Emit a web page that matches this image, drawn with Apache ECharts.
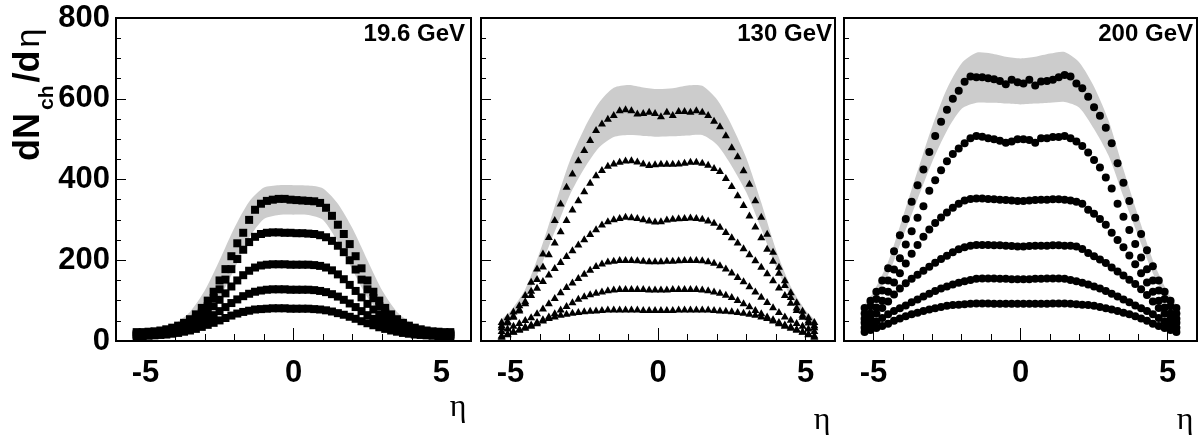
<!DOCTYPE html>
<html><head><meta charset="utf-8">
<script src="https://cdn.jsdelivr.net/npm/echarts@6/dist/echarts.min.js"></script>
<style>html,body{margin:0;padding:0;background:#fff;}#c{width:1201px;height:435px;}</style>
</head><body><div id="c"></div>
<script>
// pseudorapidity bin centres shared by all data sets
const eta = [-5.3,-5.1,-4.9,-4.7,-4.5,-4.3,-4.1,-3.9,-3.7,-3.5,-3.3,-3.1,-2.9,-2.7,-2.5,-2.3,-2.1,-1.9,-1.7,-1.5,-1.3,-1.1,-0.9,-0.7,-0.5,-0.3,-0.1,
             0.1,0.3,0.5,0.7,0.9,1.1,1.3,1.5,1.7,1.9,2.1,2.3,2.5,2.7,2.9,3.1,3.3,3.5,3.7,3.9,4.1,4.3,4.5,4.7,4.9,5.1,5.3];
// eta points of the systematic-error bands
const bandEta = [-5.3,-5,-4.5,-4,-3.5,-3,-2.5,-2,-1.5,-1,-0.5,0,0.5,1,1.5,2,2.5,3,3.5,4,4.5,5,5.3];

// ---- 19.6 GeV (squares) ----
const e196_c1 = [22,22,23,24,26,29,33,38,45,54,66,82,100,122,150,178,210,242,268,300,325,340,347,350,352,352,350,
                 349,348,347,346,342,330,310,288,265,240,210,180,150,122,100,82,66,54,45,38,33,29,26,24,23,22,22];
const e196_c2 = [18,18,19,20,22,25,28,33,39,47,57,70,86,106,128,152,178,203,226,245,258,265,268,269,269,268,268,
                 267,267,266,265,262,257,248,236,220,200,177,152,128,106,86,70,57,47,39,33,28,25,22,20,19,18,18];
const e196_c3 = [16,16,17,18,20,22,25,29,34,41,50,60,72,86,102,118,135,150,163,174,182,187,189,190,190,190,189,
                 189,189,189,188,186,182,175,165,153,139,124,108,92,78,66,55,46,39,33,28,24,21,19,18,17,16,16];
const e196_c4 = [14,14,15,16,17,19,22,25,29,34,40,47,55,64,74,84,94,103,111,117,122,125,127,128,128,128,127,
                 127,127,127,126,124,121,116,110,102,93,84,74,64,55,47,40,34,29,25,22,19,17,16,15,14,14,14];
const e196_c5 = [12,12,13,14,15,16,18,20,23,26,30,35,40,45,51,57,63,68,72,75,78,79,80,81,81,81,80,
                 80,80,80,79,78,76,73,69,65,60,55,49,44,39,34,30,26,23,20,18,16,15,14,13,12,12,12];
const e196_bandHi = [25,26,31,44,72,125,200,280,345,380,386,386,385,378,340,278,200,125,72,44,31,26,25];
const e196_bandLo = [19,19,21,27,40,65,108,178,255,302,312,313,312,300,245,175,108,65,40,27,21,19,19];

// ---- 130 GeV (triangles) ----
const e130_c1 = [48,60,74,90,115,148,181,218,259,301,342,383,416,449,474,499,524,540,552,561,573,575,573,565,566,569,566,
                 558,569,561,571,571,569,573,569,561,547,533,511,481,459,424,391,350,309,267,222,185,152,122,97,76,60,48];
const e130_c2 = [40,51,64,80,100,126,155,186,216,245,273,301,327,350,372,393,412,425,435,441,445,448,449,446,441,437,439,
                 440,440,440,441,443,445,445,443,438,430,422,405,385,362,338,312,285,258,230,200,170,140,110,84,66,52,40];
const e130_c3 = [35,47,61,77,95,115,133,150,166,182,197,212,226,240,253,266,278,290,298,303,306,309,308,306,303,300,297,
                 298,302,304,305,306,307,306,304,300,294,284,271,258,245,231,216,201,185,169,152,134,115,96,78,61,47,35];
const e130_c4 = [26,32,39,46,53,60,70,82,95,108,122,135,146,157,168,178,187,193,198,200,202,202,202,201,200,199,199,
                 199,200,200,201,202,202,202,201,199,195,189,181,171,160,149,137,124,111,98,85,73,62,54,46,39,32,26];
const e130_c5 = [15,20,25,31,37,42,48,55,62,70,79,88,97,106,112,117,121,124,127,129,130,130,130,130,130,129,129,
                 129,129,130,130,130,130,130,129,127,124,121,116,110,103,95,87,78,70,62,55,48,42,37,31,25,20,15];
const e130_c6 = [12,18,24,29,34,39,45,52,58,62,66,69,71,73,75,76,77,78,79,79,79,79,79,79,78,78,78,
                 78,78,78,79,79,79,79,79,79,78,77,76,75,73,71,69,66,62,58,52,45,39,34,29,24,18,12];
const e130_bandHi = [53,74,128,222,334,444,526,590,627,634,628,624,626,633,632,598,534,452,343,226,135,76,53];
const e130_bandLo = [43,60,104,180,271,360,427,479,505,510,508,506,507,509,510,486,433,367,278,183,110,61,43];

// ---- 200 GeV (circles) ----
const e200_c1 = [82,100,122,150,180,222,262,302,345,386,425,468,508,543,573,600,620,642,655,653,653,651,648,644,636,647,641,
                 638,647,633,643,644,647,653,659,655,638,626,605,579,558,528,490,440,392,347,305,265,225,185,150,122,100,82];
const e200_c2 = [68,86,104,125,150,177,205,239,272,305,334,372,398,423,445,463,477,490,502,508,506,502,500,496,491,494,500,
                 500,498,491,502,502,505,505,508,502,494,483,467,448,430,405,378,340,308,275,240,207,178,150,125,104,86,68];
const e200_c3 = [55,68,83,100,122,145,168,192,216,238,258,276,292,306,318,330,340,348,352,353,353,352,351,350,349,348,347,
                 347,348,349,350,350,351,351,350,348,345,340,325,315,302,288,268,250,232,212,190,168,145,122,100,83,68,55];
const e200_c4 = [45,56,68,82,98,115,130,143,154,164,174,184,194,203,211,220,227,232,236,238,238,238,237,237,236,235,234,
                 234,235,236,236,236,237,237,236,236,234,228,218,210,202,193,182,172,162,152,141,128,114,98,82,68,56,45];
const e200_c5 = [33,40,48,57,66,74,81,88,96,103,110,117,124,130,135,140,144,148,151,154,155,155,155,154,154,153,153,
                 153,153,154,154,155,155,155,154,151,148,144,140,135,130,124,117,110,103,96,88,81,74,66,57,48,40,33];
const e200_c6 = [22,27,32,37,43,50,56,61,66,70,74,78,81,84,87,89,90,91,92,93,93,93,92,92,92,92,92,
                 92,92,92,92,92,93,93,93,92,91,90,89,87,84,81,78,74,70,66,61,56,50,43,37,32,27,22];
const e200_bandHi = [90,121,196,307,421,532,625,688,714,712,704,700,704,712,716,690,630,545,425,310,200,121,90];
const e200_bandLo = [74,101,164,257,351,444,521,575,590,590,588,586,588,590,592,578,525,458,357,260,168,101,74];

const energyLabels = ['19.6 GeV', '130 GeV', '200 GeV'];
const xTickLabels = [-5, 0, 5];
const yTickStep = 200;

const panels = [
  {curves:[e196_c1,e196_c2,e196_c3,e196_c4,e196_c5], hi:e196_bandHi, lo:e196_bandLo, symbol:'rect', size:8},
  {curves:[e130_c1,e130_c2,e130_c3,e130_c4,e130_c5,e130_c6], hi:e130_bandHi, lo:e130_bandLo, symbol:'triangle', size:[8,7]},
  {curves:[e200_c1,e200_c2,e200_c3,e200_c4,e200_c5,e200_c6], hi:e200_bandHi, lo:e200_bandLo, symbol:'circle', size:8}
];

const FONT = '"Liberation Sans", Arial, Helvetica, sans-serif';
const gridPos = [
  {left:116, top:18, width:355, height:323},
  {left:481, top:18, width:354, height:323},
  {left:844, top:18, width:353, height:323}
];

const grid = [], xAxis = [], yAxis = [], series = [];
panels.forEach((p, g) => {
  grid.push(Object.assign({show:true, borderColor:'#000', borderWidth:2, backgroundColor:'transparent'}, gridPos[g]));
  xAxis.push({
    gridIndex:g, type:'value', min:-6, max:6, interval:1, position:'bottom',
    axisLine:{show:false, onZero:false}, splitLine:{show:false},
    axisTick:{show:true, inside:true, length:7, lineStyle:{color:'#000', width:1}},
    axisLabel:{customValues:xTickLabels, fontSize:31, fontWeight:'bold', color:'#000', fontFamily:FONT, margin:17}
  });
  xAxis.push({
    gridIndex:g, type:'value', min:-6, max:6, position:'bottom',
    axisLine:{show:false, onZero:false}, splitLine:{show:false}, axisLabel:{show:false},
    axisTick:{show:true, inside:true, length:13, customValues:xTickLabels, lineStyle:{color:'#000', width:1}}
  });
  yAxis.push({
    gridIndex:g, type:'value', min:0, max:800, interval:yTickStep, position:'left',
    axisLine:{show:false, onZero:false}, splitLine:{show:false}, minorSplitLine:{show:false},
    axisTick:{show:true, inside:true, length:10, lineStyle:{color:'#000', width:1}},
    minorTick:{show:true, splitNumber:4, length:5, lineStyle:{color:'#000', width:1}},
    axisLabel:{show:g===0, fontSize:31, fontWeight:'bold', color:'#000', fontFamily:FONT, margin:6}
  });
  // systematic band drawn as a filled polygon through the axis scales
  series.push({
    type:'custom', xAxisIndex:2*g, yAxisIndex:g, silent:true, z:1, clip:true,
    data:[[0, 0]],
    renderItem:(params, api) => {
      const up = bandEta.map((e,i)=>api.coord([e, p.hi[i]]));
      const lo = bandEta.map((e,i)=>api.coord([e, p.lo[i]])).reverse();
      return {type:'polygon', shape:{points:up.concat(lo), smooth:0.25}, style:{fill:'#cccccc', stroke:null}};
    }
  });
  p.curves.forEach(c => {
    series.push({
      type:'scatter', xAxisIndex:2*g, yAxisIndex:g, symbol:p.symbol, symbolSize:p.size, silent:true, z:3,
      itemStyle:{color:'#000', opacity:1}, data:eta.map((e,i)=>[e, c[i]])
    });
  });
});

// measure text to place the rotated y-axis title pieces
const mctx = document.createElement('canvas').getContext('2d');
function tw(font, s){ mctx.font = font; return mctx.measureText(s).width; }
const fMain = 'bold 36px ' + FONT, fSub = 'bold 21px ' + FONT, fEta = '34px ' + FONT;
const gap = 3;
const w1 = tw(fMain,'dN'), w2 = tw(fSub,'ch'), w3 = tw(fMain,'/d');
const titleChildren = [
  {type:'text', x:0, y:-13, style:{text:'dN', font:fMain, fill:'#000', textAlign:'left', textVerticalAlign:'middle'}},
  {type:'text', x:w1+gap, y:5, style:{text:'ch', font:fSub, fill:'#000', textAlign:'left', textVerticalAlign:'middle'}},
  {type:'text', x:w1+w2+2*gap, y:-13, style:{text:'/d', font:fMain, fill:'#000', textAlign:'left', textVerticalAlign:'middle'}},
  {type:'text', x:w1+w2+w3+3*gap, y:-12, style:{text:'η', font:fEta, fill:'#000', textAlign:'left', textVerticalAlign:'middle'}}
];

const graphic = [
  {type:'group', x:42, y:161, rotation:Math.PI/2, children:titleChildren},
  {type:'text', x:465, y:22, style:{text:energyLabels[0], font:'bold 24px '+FONT, fill:'#000', textAlign:'right', textVerticalAlign:'top'}},
  {type:'text', x:832, y:22, style:{text:energyLabels[1], font:'bold 24px '+FONT, fill:'#000', textAlign:'right', textVerticalAlign:'top'}},
  {type:'text', x:1193, y:22, style:{text:energyLabels[2], font:'bold 24px '+FONT, fill:'#000', textAlign:'right', textVerticalAlign:'top'}},
  {type:'text', x:458, y:408, style:{text:'η', font:'32px "Liberation Serif", serif', fill:'#000', textAlign:'center', textVerticalAlign:'middle'}},
  {type:'text', x:822, y:421, style:{text:'η', font:'32px "Liberation Serif", serif', fill:'#000', textAlign:'center', textVerticalAlign:'middle'}},
  {type:'text', x:1185, y:421, style:{text:'η', font:'32px "Liberation Serif", serif', fill:'#000', textAlign:'center', textVerticalAlign:'middle'}}
];

const chart = echarts.init(document.getElementById('c'), null, {renderer:'canvas', width:1201, height:435});
chart.setOption({animation:false, backgroundColor:'#fff', grid, xAxis, yAxis, series, graphic});
</script>
</body></html>
